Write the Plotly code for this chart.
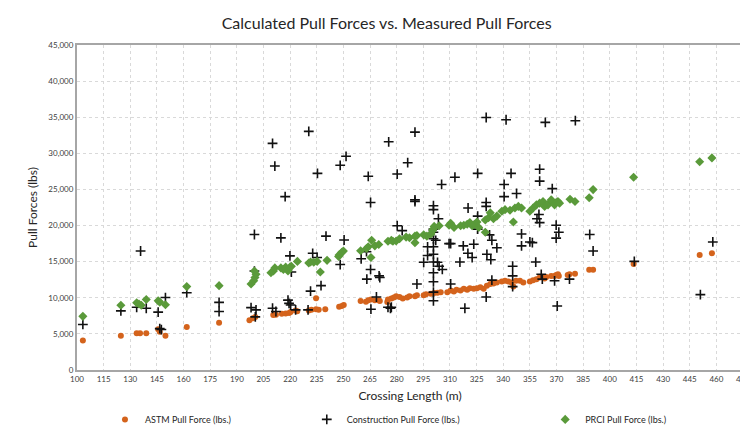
import plotly.graph_objects as go

# crossing length (m) and pull force (lbs)
astm_x = [103.3, 124.7, 133.6, 135.5, 139, 145.7, 146.6, 149.8, 161.8, 180, 197.1, 199, 200.4,
          210.5, 212, 215.3, 217.5, 219.4, 220.3, 223.1, 224, 230.5, 232, 234.6, 236.1, 239.8, 234.6,
          247.6, 249.1, 250.2, 259.7, 262.7, 264, 265.5, 267.7, 269.9, 270.5, 274.7, 275.1, 277,
          278.4, 279.7, 281.6, 283.4, 285.9, 287.2, 290.3, 291.4, 295.2, 296.5, 299.3, 301.1, 303,
          304.8, 308.5, 310.4, 312.2, 313.7, 315.9, 317.8, 319.7, 321.2, 323.4, 325.2, 327.1, 329,
          330.8, 332.7, 334.5, 336.4, 339.2, 341, 342.9, 344.7, 345.7, 347.2, 349.4, 351.3, 355,
          356.8, 358.7, 360.5, 362.4, 363.3, 364.2, 367, 368.9, 369.8, 371.3, 370.8, 376.3, 377.3,
          380.4, 388.4, 390.6, 413.4, 450.6, 457.5]
astm_y = [4070, 4740, 5100, 5100, 5100, 5640, 5280, 4740, 5950, 6540, 6890, 7160, 7350,
          7610, 7650, 7790, 7830, 7880, 8020, 8230, 8150, 8230, 8330, 8420, 8330, 8420, 9940,
          8770, 8860, 9000, 9540, 9440, 9670, 9760, 9670, 9670, 9540, 9400, 9760, 9900,
          10030, 10200, 10110, 9900, 10030, 10200, 10200, 10340, 10340, 10480, 10570, 10650, 10700,
          10780, 10780, 11010, 10880, 11100, 11010, 11240, 11100, 11320, 11240, 11320, 11460, 11240,
          11680, 11910, 11990, 12130, 12260, 12350, 12260, 12130, 11550, 12350, 12350, 12130, 12260,
          12440, 12580, 12800, 12800, 12670, 12890, 13030, 13030, 13160, 13030, 13250, 13160, 13250,
          13340, 13870, 13870, 14680, 15940, 16160]

constr_x = [103.3, 124.7, 133.6, 135.8, 139, 145.7, 146.6, 147.5, 149.8, 161.8, 180, 180,
            198, 199.9, 199.9, 200.8, 200.4, 210.1, 211.4, 217.2, 214.8, 219.9, 220.7, 210.1, 212,
            218.8, 219.4, 220.3, 223.1, 230.5, 235.4, 248.2, 251.5, 264, 265.3, 275.5, 240.2, 250.4,
            232.7, 235.2, 237.4, 231.5, 248.2, 260, 263, 265.3, 263.2, 270.1, 270.5, 268.6, 265.5,
            275.1, 277, 230.1, 290.3, 330.4, 341.6, 363.7, 380.6, 286.2, 280.3, 312.8, 325.6, 344.4,
            360.5, 360.5, 305.3, 340.5, 340.5, 347.5, 367.6, 290.3, 290.3, 300.7, 300.7, 303.5, 320.2,
            330.4, 330.4, 325.6, 280.3, 283.1, 300.7, 300.7, 300.7, 302, 300.7, 300.7, 300.7, 300.7,
            300.7, 300.7, 300.7, 297.4, 297.4, 295.2, 303, 303.9, 305.7, 309.5, 310.4, 315.6, 317.5,
            323.4, 320.1, 322.5, 325.6, 332.3, 333.6, 336.4, 330.8, 333, 291.4, 310.4, 318.4, 330.4,
            333.6, 345.3, 345.3, 345.3, 350.3, 350.3, 355, 356.4, 358.3, 359, 360.1, 360.5, 369.8,
            371.3, 369.8, 361.4, 362, 368.9, 377.3, 370.4, 276.5, 388.7, 390.6, 413.8, 451, 458]
constr_y = [6310, 8190, 8690, 16480, 8550, 8020, 5730, 5600, 10030, 10700, 9360, 8100,
            8640, 18760, 13700, 8330, 7350, 31380, 28240, 24000, 18300, 15800, 13560, 8550, 8100,
            9670, 9230, 9000, 8330, 33040, 27220, 28340, 29590, 26820, 23190, 31600, 18530, 18000,
            16160, 15580, 11680, 10920, 14600, 15400, 16380, 13920, 12580, 13030, 12800, 10110, 8420,
            8690, 8690, 8330, 32940, 34960, 34650, 34290, 34520, 28700, 27130, 26690, 27220, 27220,
            27800, 26150, 25690, 25690, 24000, 24440, 25110, 23550, 23330, 22740, 22200, 20950, 22430,
            23190, 22650, 21310, 19970, 19300, 19510, 19070, 18170, 17960, 17060, 16020, 14950, 13470,
            12220, 10780, 9580, 17060, 15850, 14910, 14910, 14370, 13920, 17500, 17500, 14950, 17190,
            17420, 16160, 15580, 19510, 18710, 17960, 16920, 16020, 15270, 11910, 11910, 8550, 10110,
            12450, 14370, 13030, 11550, 18840, 17190, 17730, 17630, 14950, 20950, 21530, 20410, 20050,
            19070, 18260, 13250, 12580, 12350, 12580, 8860, 8550, 18760, 16480, 15040, 10430, 17730]

prci_x = [103.3, 124.7, 133.6, 134.9, 136.2, 139, 145.7, 146.6, 149.8, 161.8, 180, 198, 199.5,
          200.2, 200.8, 199.9, 209.2, 210.6, 211.4, 214.8, 216.2, 217.5, 218.8, 219.9, 220.7, 224.1,
          230.5, 231.5, 233.3, 235.2, 237, 240.8, 247.3, 247.6, 249.1, 250, 259.7, 263, 264, 265.5,
          265.9, 267.7, 269.9, 275.1, 277, 277.9, 279.7, 281.6, 285.3, 287.2, 290.3, 290.3, 291.4,
          295.2, 297, 299.3, 300.2, 300.7, 301.1, 303.9, 309.5, 310.4, 312.3, 316, 317.8, 319.7,
          321.2, 322.5, 323.8, 325.2, 326.2, 329.9, 329.9, 331.7, 332.7, 334.5, 336.4, 339.2, 341,
          343.8, 345.7, 346.6, 348.5, 350.3, 355, 356.8, 358.7, 360.5, 362.4, 363.3, 365.2, 367,
          367.6, 368.9, 369.8, 370.8, 371.7, 377.6, 380.4, 388.4, 390.6, 413.4, 450.6, 457.5]
prci_y = [7430, 8960, 9310, 9130, 8960, 9760, 9580, 9400, 9040, 11550, 11680, 11910, 12350,
          12800, 13250, 13700, 13470, 13700, 14140, 14140, 13920, 14240, 13700, 14240, 14370, 15040,
          14810, 14950, 14910, 15040, 13560, 15180, 15710, 15940, 16290, 16480, 16520, 16830, 17060, 15580,
          17960, 17190, 17370, 17820, 17960, 17820, 17860, 18170, 18400, 18310, 18530, 17630, 18630,
          18710, 18530, 18840, 19300, 19510, 19880, 19970, 20050, 20320, 19740, 19970, 20050, 20180,
          20410, 19970, 20180, 20500, 19740, 19070, 20770, 21080, 21760, 20950, 21310, 21980, 22200,
          22120, 20500, 22430, 22650, 22430, 21980, 22430, 22870, 23100, 23330, 22650, 22870, 23550,
          23410, 22870, 23190, 23330, 23100, 23640, 23330, 23860, 24980, 26690, 28830, 29370]

FONT = "Lato"

fig = go.Figure()

fig.add_trace(go.Scatter(
    x=astm_x, y=astm_y, mode='markers', name='ASTM Pull Force (lbs.)',
    marker=dict(symbol='circle', size=6, color='#D4631C'),
    legend='legend'
))
fig.add_trace(go.Scatter(
    x=constr_x, y=constr_y, mode='markers', name='Construction Pull Force (lbs.)',
    marker=dict(symbol='cross-thin', size=7, line=dict(width=1.6, color='#111111')),
    legend='legend2'
))
fig.add_trace(go.Scatter(
    x=prci_x, y=prci_y, mode='markers', name='PRCI Pull Force (lbs.)',
    marker=dict(symbol='diamond', size=7, color='#5A9A3A'),
    legend='legend3'
))

axis_common = dict(
    showline=True, linecolor='#A6A6A6', linewidth=2, mirror=True,
    showgrid=True, gridcolor='#D9D9D9', griddash='dot', gridwidth=1,
    zeroline=False, ticks='', tickfont=dict(family=FONT, size=8, color='#404040'),
)

fig.update_xaxes(
    range=[100, 475], dtick=15, tick0=100,
    title=dict(text='Crossing Length (m)', font=dict(family=FONT, size=12, color='#262626'), standoff=9),
    **axis_common
)
fig.update_yaxes(
    range=[0, 45000], dtick=5000, tickformat=',',
    title=dict(text='Pull Forces (lbs)', font=dict(family=FONT, size=12, color='#262626'), standoff=8),
    **axis_common
)

legend_common = dict(
    orientation='h', yanchor='middle', y=-0.152, xanchor='left',
    font=dict(family=FONT, size=9, color='#262626'), bgcolor='rgba(0,0,0,0)',
    itemwidth=30
)

fig.update_layout(
    width=748, height=432,
    margin=dict(l=69, r=6, t=37, b=60),
    title=dict(text='Calculated Pull Forces vs. Measured Pull Forces',
               font=dict(family=FONT, size=16, color='#262626'),
               x=0.465, xref='paper', xanchor='center', y=0.965, yanchor='middle'),
    plot_bgcolor='white', paper_bgcolor='white',
    showlegend=True,
    legend=dict(x=0.042, **legend_common),
    legend2=dict(x=0.345, **legend_common),
    legend3=dict(x=0.703, **legend_common),
    font=dict(family=FONT),
)

fig.write_html("out.html")
